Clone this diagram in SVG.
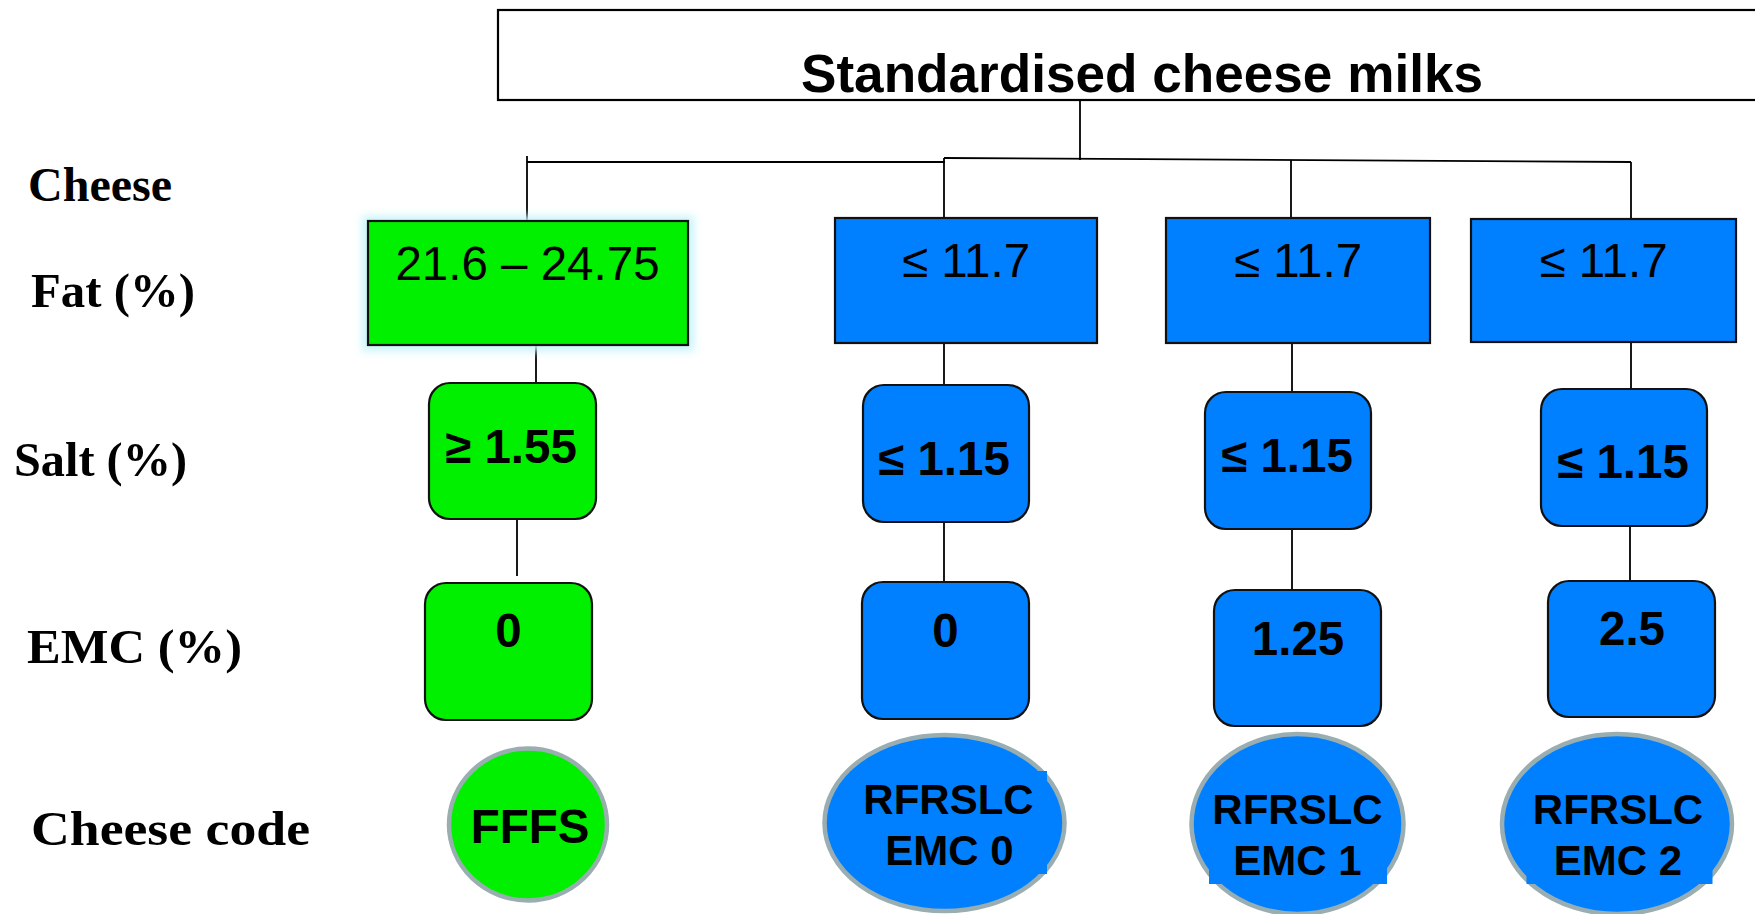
<svg xmlns="http://www.w3.org/2000/svg" width="1755" height="914" viewBox="0 0 1755 914">
<style>
.lbl{font-family:"Liberation Serif","Times New Roman",serif;font-weight:bold;font-size:48px;fill:#000}
.sans{font-family:"Liberation Sans",Arial,sans-serif;fill:#000;text-anchor:middle}
.reg{font-size:47.5px}
.bld{font-size:47.5px;font-weight:bold}
.code{font-size:42px;font-weight:bold}
.green{fill:#00f000}
.blue{fill:#0080ff}
.box{stroke:#111;stroke-width:2.2}
.ell{stroke:#9aaeb1;stroke-width:4.5}
.con{stroke:#000;stroke-width:1.8;fill:none}
</style>
<defs>
<filter id="glow" x="-10%" y="-10%" width="120%" height="120%">
<feGaussianBlur stdDeviation="4"/>
</filter>
</defs>
<rect width="1755" height="914" fill="#fff"/>

<g id="row-labels">
<text class="lbl" x="28" y="201" textLength="144" lengthAdjust="spacingAndGlyphs">Cheese</text>
<text class="lbl" x="31" y="307" textLength="164" lengthAdjust="spacingAndGlyphs">Fat (%)</text>
<text class="lbl" x="14" y="476" textLength="173" lengthAdjust="spacingAndGlyphs">Salt (%)</text>
<text class="lbl" x="27" y="663" textLength="215" lengthAdjust="spacingAndGlyphs">EMC (%)</text>
<text class="lbl" x="31" y="845" textLength="279" lengthAdjust="spacingAndGlyphs">Cheese code</text>
</g>

<g id="connectors">
<line class="con" x1="1080" y1="100" x2="1080" y2="160"/>
<line class="con" x1="527" y1="162" x2="945" y2="162"/>
<line class="con" x1="944" y1="158" x2="1631" y2="162"/>
<line class="con" x1="527" y1="156" x2="527" y2="221"/>
<line class="con" x1="944" y1="158" x2="944" y2="218"/>
<line class="con" x1="1291" y1="160" x2="1291" y2="218"/>
<line class="con" x1="1631" y1="162" x2="1631" y2="219"/>
<line class="con" x1="536" y1="345" x2="536" y2="383"/>
<line class="con" x1="944" y1="343" x2="944" y2="385"/>
<line class="con" x1="1292" y1="343" x2="1292" y2="392"/>
<line class="con" x1="1631" y1="342" x2="1631" y2="389"/>
<line class="con" x1="517" y1="519" x2="517" y2="576"/>
<line class="con" x1="944" y1="522" x2="944" y2="582"/>
<line class="con" x1="1292" y1="528" x2="1292" y2="590"/>
<line class="con" x1="1630" y1="526" x2="1630" y2="581"/>
</g>

<g id="title">
<rect x="498" y="10" width="1270" height="90" fill="#fff" stroke="#000" stroke-width="2.2"/>
<text class="sans" x="1142" y="92" font-size="54" font-weight="bold" textLength="682" lengthAdjust="spacingAndGlyphs">Standardised cheese milks</text>
</g>

<g id="fat-fffs">
<rect x="362" y="216" width="332" height="135" fill="#c8f4fa" filter="url(#glow)"/>
<rect class="green box" x="368" y="221" width="320" height="124"/>
<text class="sans reg" x="527.5" y="280">21.6 – 24.75</text>
</g>
<g id="fat-emc0">
<rect class="blue box" x="835" y="218" width="262" height="125"/>
<text class="sans reg" x="966" y="277">≤ 11.7</text>
</g>
<g id="fat-emc1">
<rect class="blue box" x="1166" y="218" width="264" height="125"/>
<text class="sans reg" x="1298" y="277">≤ 11.7</text>
</g>
<g id="fat-emc2">
<rect class="blue box" x="1471" y="219" width="265" height="123"/>
<text class="sans reg" x="1603.5" y="277">≤ 11.7</text>
</g>

<g id="salt-fffs">
<rect class="green box" x="429" y="383" width="167" height="136" rx="21"/>
<text class="sans bld" x="511" y="463">≥ 1.55</text>
</g>
<g id="salt-emc0">
<rect class="blue box" x="863" y="385" width="166" height="137" rx="21"/>
<text class="sans bld" x="944" y="475">≤ 1.15</text>
</g>
<g id="salt-emc1">
<rect class="blue box" x="1205" y="392" width="166" height="137" rx="21"/>
<text class="sans bld" x="1287" y="472">≤ 1.15</text>
</g>
<g id="salt-emc2">
<rect class="blue box" x="1541" y="389" width="166" height="137" rx="21"/>
<text class="sans bld" x="1623" y="478">≤ 1.15</text>
</g>

<g id="emc-fffs">
<rect class="green box" x="425" y="583" width="167" height="137" rx="21"/>
<text class="sans bld" x="508.5" y="647">0</text>
</g>
<g id="emc-emc0">
<rect class="blue box" x="862" y="582" width="167" height="137" rx="21"/>
<text class="sans bld" x="945.5" y="647">0</text>
</g>
<g id="emc-emc1">
<rect class="blue box" x="1214" y="590" width="167" height="136" rx="21"/>
<text class="sans bld" x="1298" y="655">1.25</text>
</g>
<g id="emc-emc2">
<rect class="blue box" x="1548" y="581" width="167" height="136" rx="21"/>
<text class="sans bld" x="1632" y="645">2.5</text>
</g>

<g id="code-fffs">
<ellipse class="green ell" cx="528" cy="824.5" rx="79" ry="76"/>
<text class="sans" x="530" y="843" font-size="47.5" font-weight="bold">FFFS</text>
</g>
<g id="code-emc0">
<ellipse class="blue ell" cx="944.5" cy="823" rx="120" ry="88"/>
<rect class="blue" x="850" y="771" width="197" height="103"/>
<text class="sans code" x="948.5" y="814">RFRSLC</text>
<text class="sans code" x="949.5" y="865">EMC 0</text>
</g>
<g id="code-emc1">
<ellipse class="blue ell" cx="1297.5" cy="824" rx="106" ry="90"/>
<rect class="blue" x="1209" y="780" width="178" height="104"/>
<text class="sans code" x="1297.5" y="824">RFRSLC</text>
<text class="sans code" x="1297.5" y="875">EMC 1</text>
</g>
<g id="code-emc2">
<ellipse class="blue ell" cx="1617" cy="824" rx="115" ry="90"/>
<rect class="blue" x="1526.5" y="780" width="186" height="104"/>
<text class="sans code" x="1618" y="824">RFRSLC</text>
<text class="sans code" x="1618" y="875">EMC 2</text>
</g>
</svg>
